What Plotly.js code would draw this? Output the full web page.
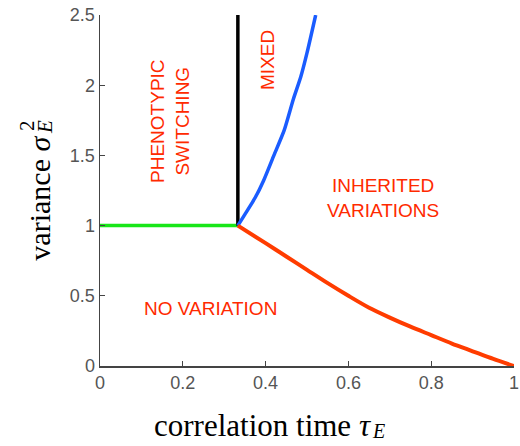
<!DOCTYPE html>
<html>
<head>
<meta charset="utf-8">
<script src="https://cdn.plot.ly/plotly-3.0.1.min.js"></script>
<style>html,body{margin:0;padding:0;background:#fff;}#chart{width:520px;height:446px;}</style>
</head>
<body>
<div id="chart"></div>
<script>
// Boundary lines of the phase diagram
const greenX = [0, 0.333];
const greenY = [1, 1];
const blackX = [0.333, 0.333];
const blackY = [1, 2.5];
const blueX = [0.333, 0.35, 0.375, 0.395, 0.42, 0.445, 0.467, 0.485, 0.5, 0.521];
const blueY = [1.0, 1.08, 1.2, 1.32, 1.5, 1.68, 1.9, 2.06, 2.23, 2.5];
const redX = [0.333, 0.4, 0.45, 0.5, 0.55, 0.6, 0.65, 0.7, 0.75, 0.8, 0.85, 0.9, 0.95, 1.0];
const redY = [1.0, 0.875, 0.78, 0.685, 0.59, 0.5, 0.415, 0.345, 0.28, 0.22, 0.16, 0.105, 0.05, 0.0];

const xTickVals = [0, 0.2, 0.4, 0.6, 0.8, 1];
const xTickText = ['0', '0.2', '0.4', '0.6', '0.8', '1'];
const yTickVals = [0, 0.5, 1, 1.5, 2, 2.5];
const yTickText = ['0', '0.5', '1', '1.5', '2', '2.5'];

const regionLabels = ['PHENOTYPIC<br>SWITCHING', 'MIXED', 'INHERITED<br>VARIATIONS', 'NO VARIATION'];
const regionX = [0.169, 0.406, 0.684, 0.266];
const regionY = [1.745, 2.18, 1.2, 0.413];
const regionAngle = [-90, -90, 0, 0];

const traces = [
  {x: greenX, y: greenY, mode: 'lines', line: {color: '#19e619', width: 3.5}, hoverinfo: 'skip'},
  {x: blackX, y: blackY, mode: 'lines', line: {color: '#000000', width: 3.5}, hoverinfo: 'skip'},
  {x: blueX, y: blueY, mode: 'lines', line: {color: '#1a5cff', width: 3.5, shape: 'spline', smoothing: 0.6}, hoverinfo: 'skip'},
  {x: redX, y: redY, mode: 'lines', line: {color: '#ff3c00', width: 4, shape: 'spline', smoothing: 0.8}, hoverinfo: 'skip'}
];

const textRed = '#ff2a00';
const annotations = regionLabels.map((t, i) => ({
  text: t, x: regionX[i], y: regionY[i], xref: 'x', yref: 'y',
  showarrow: false, textangle: regionAngle[i],
  font: {family: 'Liberation Sans, Arial, sans-serif', size: 19, color: textRed},
  xanchor: 'center', yanchor: 'middle'
}));

const serif = 'Liberation Serif, Times New Roman, serif';
annotations.push(
  {text: 'correlation time <i>τ</i>', xref: 'paper', yref: 'paper',
   x: (152 - 100) / 414, y: (366 - 425) / 351,
   xanchor: 'left', yanchor: 'middle', showarrow: false,
   font: {family: serif, size: 31, color: '#000'}},
  {text: '<i>E</i>', xref: 'paper', yref: 'paper',
   x: (378 - 100) / 414, y: (366 - 431) / 351,
   xanchor: 'center', yanchor: 'middle', showarrow: false,
   font: {family: serif, size: 20, color: '#000'}},
  {text: 'variance <i>σ</i>', xref: 'paper', yref: 'paper', x: -0.147, y: (366 - 263) / 351,
   xanchor: 'center', yanchor: 'bottom', textangle: -90, showarrow: false,
   font: {family: serif, size: 30, color: '#000'}},
  {text: '2', xref: 'paper', yref: 'paper', x: (27 - 100) / 414, y: (366 - 126) / 351,
   xanchor: 'center', yanchor: 'middle', textangle: -90, showarrow: false,
   font: {family: serif, size: 21, color: '#000'}},
  {text: '<i>E</i>', xref: 'paper', yref: 'paper', x: (45 - 100) / 414, y: (366 - 127) / 351,
   xanchor: 'center', yanchor: 'middle', textangle: -90, showarrow: false,
   font: {family: serif, size: 21, color: '#000'}}
);

const axisCommon = {
  showgrid: false, zeroline: false, showline: true, linecolor: '#444', linewidth: 1.5,
  ticks: 'inside', ticklen: 5, tickwidth: 1.2, tickcolor: '#444',
  tickfont: {family: 'Liberation Sans, Arial, sans-serif', size: 18, color: '#555'},
  mirror: false, fixedrange: true
};

const layout = {
  width: 520, height: 446,
  margin: {l: 100, r: 6, t: 15, b: 80},
  paper_bgcolor: '#ffffff', plot_bgcolor: '#ffffff',
  showlegend: false,
  xaxis: Object.assign({}, axisCommon, {range: [0, 1], tickvals: xTickVals, ticktext: xTickText}),
  yaxis: Object.assign({}, axisCommon, {range: [0, 2.5], tickvals: yTickVals, ticktext: yTickText}),
  annotations: annotations
};

Plotly.newPlot('chart', traces, layout, {displayModeBar: false, staticPlot: true});
</script>
</body>
</html>
